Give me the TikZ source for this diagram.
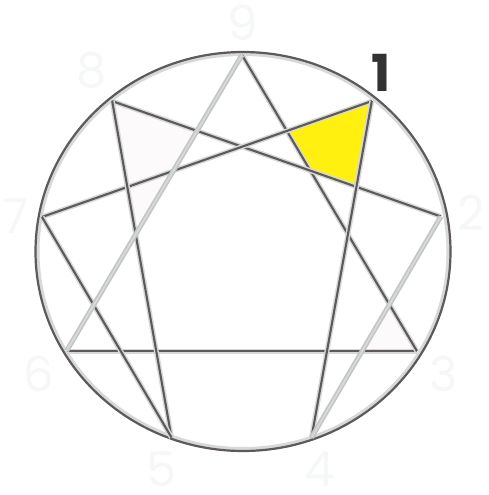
\documentclass[tikz,border=0pt]{standalone}
\usepackage{fontspec}
\setmainfont{Poppins}
\usetikzlibrary{calc}
\definecolor{dk}{HTML}{5F5959}
\definecolor{lt}{HTML}{D6D9D9}
\definecolor{sv}{HTML}{C4C6C6}
\definecolor{yl}{HTML}{FFF010}
\definecolor{fd}{HTML}{F6F8F8}
\definecolor{nm}{HTML}{333132}
\definecolor{pk}{HTML}{FCFAFB}
\newcommand\eline[2]{\draw[band] (#1) -- (#2); \draw[core] (#1) -- (#2);}
\newcommand\sline[2]{\draw[sband] (#1) -- (#2); \draw[score] (#1) -- (#2);}
\begin{document}
\begin{tikzpicture}[x=1pt,y=-1pt,
  band/.style={line width=5pt, lt},
  core/.style={line width=2.1pt, dk},
  sband/.style={line width=5pt, sv},
  score/.style={line width=1.8pt, lt},
  faint/.style={fd, font=\fontsize{48}{48}\selectfont, inner sep=0pt},
  one/.style={nm, font=\bfseries\fontsize{51}{51}\selectfont, inner sep=0pt}]
\useasboundingbox (0,0) rectangle (489,495);
\fill[white] (0,0) rectangle (489,495);
% vertices
\coordinate (p9) at (242,55);
\coordinate (p1) at (371.8,101.1);
\coordinate (p2) at (440.9,216.5);
\coordinate (p3) at (416.9,351);
\coordinate (p4) at (311.5,437.5);
\coordinate (p5) at (171.5,437.5);
\coordinate (p6) at (66.5,351);
\coordinate (p7) at (42,217);
\coordinate (p8) at (112.2,101.1);
% faint fills
\fill[pk] (p8) -- (intersection of p8--p2 and p9--p6) -- (intersection of p8--p5 and p9--p6) -- cycle;
\fill[pk] (p3) -- (intersection of p3--p6 and p4--p2) -- (intersection of p3--p9 and p4--p2) -- cycle;
% yellow area
\fill[yl] (intersection of p1--p7 and p9--p3) -- (p1) -- (intersection of p1--p4 and p8--p2) -- (intersection of p9--p3 and p8--p2) -- cycle;
% circle
\draw[line width=4pt, lt] (243,251.5) ellipse [x radius=205.5, y radius=197.5];
\draw[line width=2.2pt, dk] (243,251.5) ellipse [x radius=207.5, y radius=199.5];
% lines
\eline{p3}{p6}
\eline{p9}{p3}
\eline{p8}{p2}
\eline{p1}{p7}
\eline{p8}{p5}
\eline{p5}{p7}
\eline{p1}{p4}
\sline{p9}{p6}
\sline{p4}{p2}
% numbers
\node[faint] (n9) at (243,23) {9};
\node[faint] (n8) at (92,70) {8};
\node[faint] (n7) at (16,216) {7};
\node[faint] (n6) at (39,374) {6};
\node[faint] (n5) at (162,469) {5};
\node[faint] (n4) at (320,469) {4};
\node[faint] (n3) at (444,374) {3};
\node[faint] (n2) at (471,213) {2};
\node[one] (n1) at (381,72.5) {1};
\end{tikzpicture}
\end{document}
